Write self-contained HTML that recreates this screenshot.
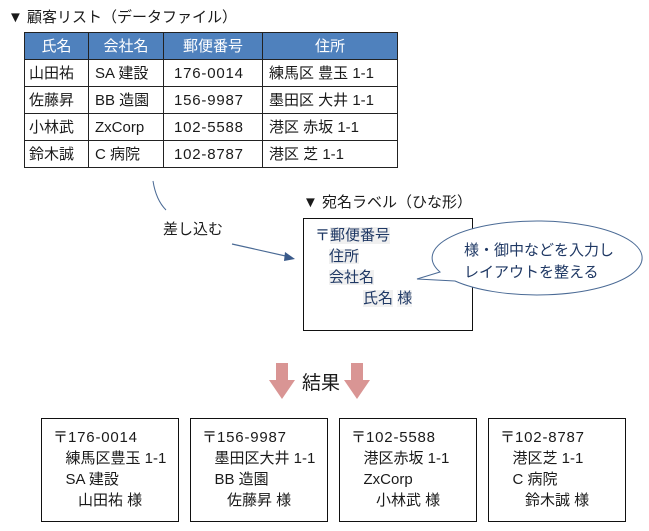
<!DOCTYPE html>
<html><head><meta charset="utf-8"><style>
body{margin:0;width:649px;height:531px;background:#fff;position:relative;overflow:hidden;font-family:"Liberation Sans","Noto Sans CJK JP",sans-serif;font-size:15px;color:#1a1a1a}
.a{position:absolute;white-space:nowrap;line-height:1}
table{position:absolute;left:24px;top:32px;border-collapse:collapse}
td,th{border:1px solid #222;height:26px;padding:0 0 0 6px;text-align:left;font-weight:normal;font-size:15px;line-height:1}
th{background:#4f81bd;color:#fff;text-align:center;padding:0;height:26px}
.box{position:absolute;border:1.3px solid #111;background:#fff}
.n{letter-spacing:0.8px}
</style></head><body>
<div class="a" style="left:8px;top:10px">▼ 顧客リスト（データファイル）</div>
<table>
<tr><th style="width:63px">氏名</th><th style="width:74px">会社名</th><th style="width:98px">郵便番号</th><th style="width:134px">住所</th></tr>
<tr><td style="padding-left:4px">山田祐</td><td>SA 建設</td><td class="n" style="padding-left:10px">176-0014</td><td>練馬区 豊玉 1-1</td></tr>
<tr><td style="padding-left:4px">佐藤昇</td><td>BB 造園</td><td class="n" style="padding-left:10px">156-9987</td><td>墨田区 大井 1-1</td></tr>
<tr><td style="padding-left:4px">小林武</td><td>ZxCorp</td><td class="n" style="padding-left:10px">102-5588</td><td>港区 赤坂 1-1</td></tr>
<tr><td style="padding-left:4px">鈴木誠</td><td>C 病院</td><td class="n" style="padding-left:10px">102-8787</td><td>港区 芝 1-1</td></tr>
</table>
<div class="a" style="left:163px;top:222px">差し込む</div>
<div class="a" style="left:303px;top:195px">▼ 宛名ラベル（ひな形）</div>
<div class="box" style="left:303px;top:218px;width:168px;height:111px"></div>
<div class="a" style="left:315px;top:228px;color:#1f3864">〒<span style="background:#f0f0f0">郵便番号</span></div>
<div class="a" style="left:329px;top:249px;color:#1f3864;background:#f0f0f0">住所</div>
<div class="a" style="left:329px;top:270px;color:#1f3864;background:#f0f0f0">会社名</div>
<div class="a" style="left:363px;top:291px;color:#1f3864"><span style="background:#f0f0f0">氏名</span> <span style="background:#f5f5f5">様</span></div>
<div class="a" style="left:302px;top:374px;font-size:19px">結果</div>
<div class="box" style="left:41px;top:418px;width:136px;height:102px"></div>
<div class="box" style="left:190px;top:418px;width:136px;height:102px"></div>
<div class="box" style="left:339px;top:418px;width:136px;height:102px"></div>
<div class="box" style="left:488px;top:418px;width:136px;height:102px"></div>
<div class="a" style="left:53px;top:427px;line-height:21px">〒<span class="n">176-0014</span><br>&nbsp;&nbsp;&nbsp;練馬区豊玉 1-1<br>&nbsp;&nbsp;&nbsp;SA 建設<br>&nbsp;&nbsp;&nbsp;&nbsp;&nbsp;&nbsp;山田祐 様</div>
<div class="a" style="left:202px;top:427px;line-height:21px">〒<span class="n">156-9987</span><br>&nbsp;&nbsp;&nbsp;墨田区大井 1-1<br>&nbsp;&nbsp;&nbsp;BB 造園<br>&nbsp;&nbsp;&nbsp;&nbsp;&nbsp;&nbsp;佐藤昇 様</div>
<div class="a" style="left:351px;top:427px;line-height:21px">〒<span class="n">102-5588</span><br>&nbsp;&nbsp;&nbsp;港区赤坂 1-1<br>&nbsp;&nbsp;&nbsp;ZxCorp<br>&nbsp;&nbsp;&nbsp;&nbsp;&nbsp;&nbsp;小林武 様</div>
<div class="a" style="left:500px;top:427px;line-height:21px">〒<span class="n">102-8787</span><br>&nbsp;&nbsp;&nbsp;港区芝 1-1<br>&nbsp;&nbsp;&nbsp;C 病院<br>&nbsp;&nbsp;&nbsp;&nbsp;&nbsp;&nbsp;鈴木誠 様</div>
<svg width="649" height="531" style="position:absolute;left:0;top:0">
<path d="M153,181 Q156,200 166,210" fill="none" stroke="#4a6a95" stroke-width="1"/>
<line x1="232" y1="244" x2="290" y2="257" stroke="#4a6a95" stroke-width="1.2"/>
<polygon points="295,259 285,252 284,261" fill="#3a5a8a"/>
<path d="M440,272 L417,279 L455,281 A105,37 0 1 0 440,272 Z" fill="#fff" stroke="#4a6a95" stroke-width="1"/>
<polygon points="276,363 288,363 288,380 295,380 282,399 269,380 276,380" fill="#d99594"/>
<polygon points="351,363 363,363 363,380 370,380 357,399 344,380 351,380" fill="#d99594"/>
</svg>
<div class="a" style="left:464px;top:240px;color:#1f3864;line-height:22px">様・御中などを入力し<br>レイアウトを整える</div>
</body></html>
